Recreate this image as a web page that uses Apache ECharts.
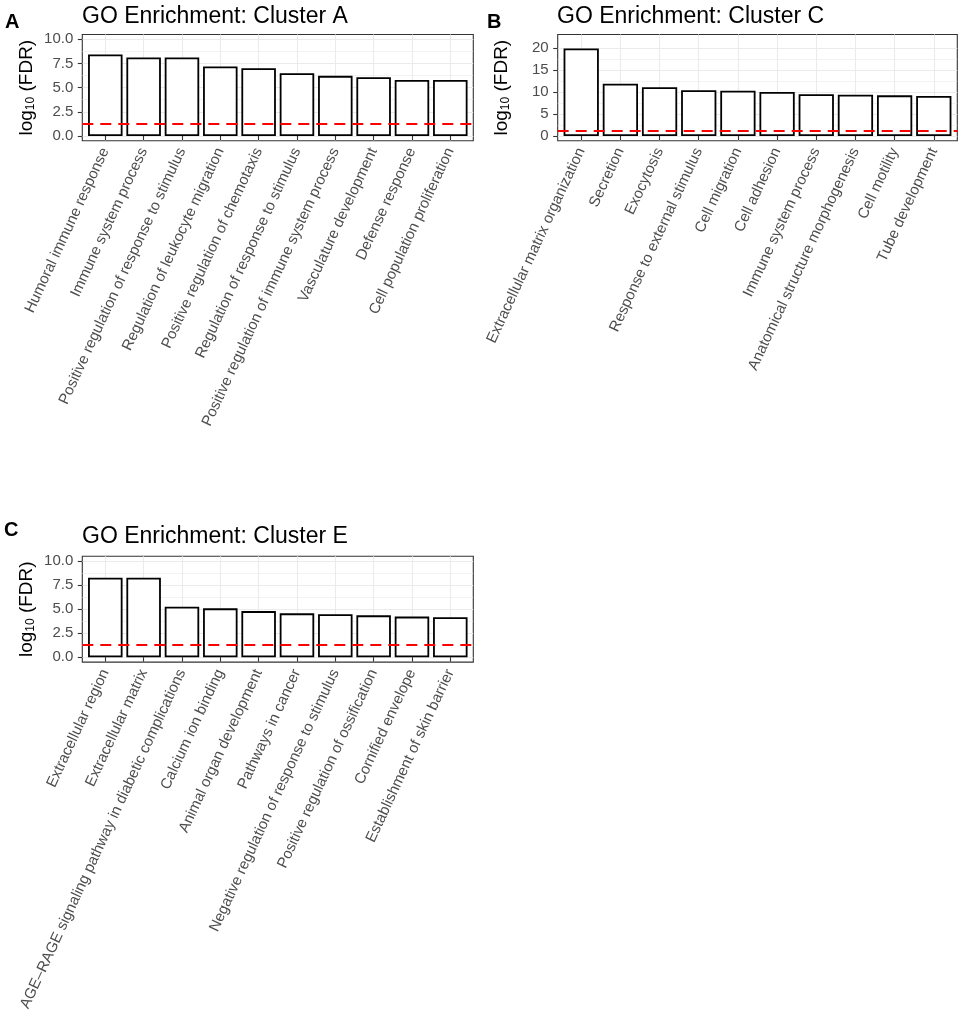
<!DOCTYPE html>
<html>
<head>
<meta charset="utf-8">
<title>GO Enrichment</title>
<script src="https://cdn.jsdelivr.net/npm/echarts@6/dist/echarts.min.js"></script>
<style>
  html, body { margin: 0; padding: 0; background: #fff; }
  #main { width: 962px; height: 1024px; }
</style>
</head>
<body>
<div id="main"></div>
<script>
// data (-log10 FDR)
const clusterANames = [
  'Humoral immune response',
  'Immune system process',
  'Positive regulation of response to stimulus',
  'Regulation of leukocyte migration',
  'Positive regulation of chemotaxis',
  'Regulation of response to stimulus',
  'Positive regulation of immune system process',
  'Vasculature development',
  'Defense response',
  'Cell population proliferation'
];
const clusterAValues = [8.44, 8.13, 8.13, 7.19, 7.01, 6.49, 6.22, 6.08, 5.8, 5.8];

const clusterCNames = [
  'Extracellular matrix organization',
  'Secretion',
  'Exocytosis',
  'Response to external stimulus',
  'Cell migration',
  'Cell adhesion',
  'Immune system process',
  'Anatomical structure morphogenesis',
  'Cell motility',
  'Tube development'
];
const clusterCValues = [19.9, 11.9, 11.1, 10.4, 10.3, 10.0, 9.5, 9.4, 9.25, 9.1];

const clusterENames = [
  'Extracellular region',
  'Extracellular matrix',
  'AGE–RAGE signaling pathway in diabetic complications',
  'Calcium ion binding',
  'Animal organ development',
  'Pathways in cancer',
  'Negative regulation of response to stimulus',
  'Positive regulation of ossification',
  'Cornified envelope',
  'Establishment of skin barrier'
];
const clusterEValues = [8.27, 8.27, 5.26, 5.09, 4.8, 4.57, 4.47, 4.36, 4.23, 4.16];

const ticksSmall = [0, 2.5, 5, 7.5, 10];
const minorSmall = [1.25, 3.75, 6.25, 8.75];
const ticksLarge = [0, 5, 10, 15, 20];
const minorLarge = [2.5, 7.5, 12.5, 17.5];
const fdrCutoff = 1.3;

const FONT = 'Liberation Sans, Arial, sans-serif';

const panels = [
  { letter: 'A', title: 'GO Enrichment: Cluster A', names: clusterANames, values: clusterAValues,
    ymin: -0.5, ymax: 10.5, ticks: ticksSmall, minor: minorSmall, fmt: v => v.toFixed(1),
    rect: { left: 82.3, top: 34.5, width: 391, height: 106.3 }, letterPos: [5, 12], titlePos: [82, 5] },
  { letter: 'B', title: 'GO Enrichment: Cluster C', names: clusterCNames, values: clusterCValues,
    ymin: -1.1, ymax: 23.1, ticks: ticksLarge, minor: minorLarge, fmt: v => String(v),
    rect: { left: 557.7, top: 34.5, width: 399.6, height: 106.3 }, letterPos: [487, 12], titlePos: [557, 5] },
  { letter: 'C', title: 'GO Enrichment: Cluster E', names: clusterENames, values: clusterEValues,
    ymin: -0.5, ymax: 10.5, ticks: ticksSmall, minor: minorSmall, fmt: v => v.toFixed(1),
    rect: { left: 82.3, top: 556.3, width: 391, height: 105.8 }, letterPos: [4, 520], titlePos: [82, 525] }
];

const grid = [], xAxis = [], yAxis = [], series = [], title = [];

panels.forEach((p, i) => {
  const pos = p.names.map((_, k) => k + 1);

  grid.push(Object.assign({
    show: true, backgroundColor: '#fff', borderColor: '#333', borderWidth: 1.1
  }, p.rect));

  title.push({
    text: p.title, left: p.titlePos[0], top: p.titlePos[1], padding: 0,
    textStyle: { fontFamily: FONT, fontSize: 23, fontWeight: 'normal', color: '#000' }
  });
  title.push({
    text: p.letter, left: p.letterPos[0], top: p.letterPos[1], padding: 0,
    textStyle: { fontFamily: FONT, fontSize: 20, fontWeight: 'bold', color: '#000' }
  });

  xAxis.push({
    type: 'value', gridIndex: i, min: 0.4, max: 10.6,
    axisLine: { show: false },
    axisTick: { show: true, length: 4.5, customValues: pos, lineStyle: { color: '#333', width: 1.1 } },
    axisLabel: {
      customValues: pos, formatter: v => p.names[Math.round(v) - 1],
      rotate: 65, margin: 8, fontSize: 15, color: '#4d4d4d', fontFamily: FONT
    },
    splitLine: { show: true, lineStyle: { color: '#ebebeb', width: 1.1 } }
  });

  // main y axis
  yAxis.push({
    type: 'value', gridIndex: i, min: p.ymin, max: p.ymax, position: 'left',
    name: '{a|log}{b|10}{a| (FDR)}', nameLocation: 'middle', nameGap: 46, nameRotate: 90,
    nameTextStyle: {
      rich: {
        a: { fontSize: 19, color: '#000', fontFamily: FONT },
        b: { fontSize: 12, color: '#000', fontFamily: FONT, verticalAlign: 'bottom' }
      }
    },
    axisLine: { show: false },
    axisTick: { show: true, length: 4.5, customValues: p.ticks, lineStyle: { color: '#333', width: 1.1 } },
    axisLabel: { customValues: p.ticks, formatter: p.fmt, margin: 9, fontSize: 15, color: '#4d4d4d', fontFamily: FONT },
    splitLine: { show: true, lineStyle: { color: '#ebebeb', width: 1.1 } }
  });
  // minor grid lines
  yAxis.push({
    type: 'value', gridIndex: i, min: p.ymin, max: p.ymax, position: 'left',
    axisLine: { show: false },
    axisTick: { show: false, customValues: p.minor },
    axisLabel: { show: false },
    splitLine: { show: true, lineStyle: { color: '#ebebeb', width: 0.6 } }
  });

  series.push({
    type: 'bar', xAxisIndex: i, yAxisIndex: i * 2,
    data: p.values.map((v, k) => [k + 1, v]),
    barWidth: '90%',
    itemStyle: { color: '#fff', borderColor: '#000', borderWidth: 1.8 },
    emphasis: { disabled: true },
    markLine: {
      silent: true, symbol: 'none', label: { show: false },
      lineStyle: { color: '#ff0000', type: [11, 7], width: 2 },
      data: [{ yAxis: fdrCutoff }]
    }
  });
});

const chart = echarts.init(document.getElementById('main'), null, { renderer: 'canvas' });
chart.setOption({
  animation: false,
  backgroundColor: '#fff',
  title: title,
  grid: grid,
  xAxis: xAxis,
  yAxis: yAxis,
  series: series
});
</script>
</body>
</html>
